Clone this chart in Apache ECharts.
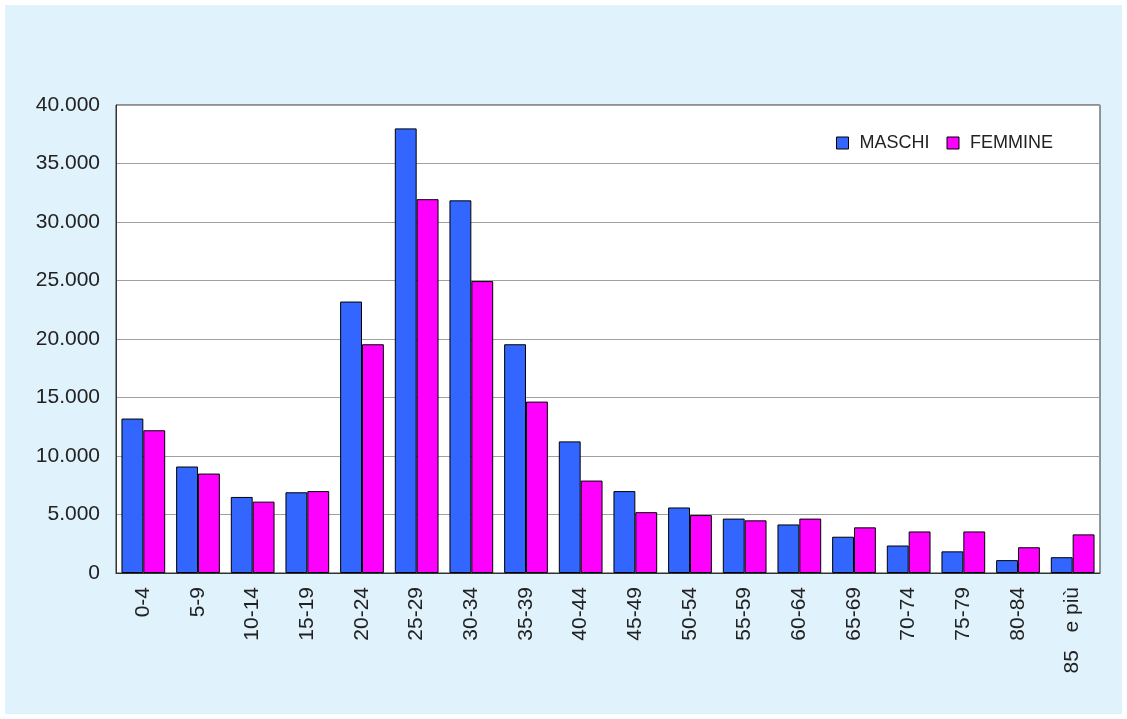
<!DOCTYPE html>
<html>
<head>
<meta charset="utf-8">
<script src="https://cdn.jsdelivr.net/npm/echarts@6/dist/echarts.min.js"></script>
<style>
html,body{margin:0;padding:0;background:#fff;}
#c{width:1127px;height:719px;}
</style>
</head>
<body>
<div id="c"></div>
<script>
var categories = ['0-4','5-9','10-14','15-19','20-24','25-29','30-34','35-39','40-44','45-49','50-54','55-59','60-64','65-69','70-74','75-79','80-84','85   e più'];
var maschi = [13200, 9100, 6500, 6900, 23200, 38000, 31850, 19550, 11250, 7000, 5600, 4650, 4150, 3100, 2350, 1850, 1100, 1350];
var femmine = [12200, 8500, 6100, 7000, 19550, 31950, 24950, 14650, 7900, 5200, 4950, 4500, 4650, 3900, 3550, 3550, 2200, 3300];
var yTicks = {min: 0, max: 40000, interval: 5000};

function fmt(v){
  return String(v).replace(/\B(?=(\d{3})+(?!\d))/g, '.');
}

var chart = echarts.init(document.getElementById('c'), null, {renderer:'canvas'});
chart.setOption({
  backgroundColor: '#ffffff',
  animation: false,
  graphic: [{
    type: 'rect', z: -10, silent: true,
    shape: {x: 5, y: 5, width: 1117, height: 709},
    style: {fill: '#E0F2FC'}
  }],
  grid: {
    left: 116, right: 27, top: 105, bottom: 146,
    show: true, backgroundColor: '#ffffff', borderColor: '#333333', borderWidth: 1
  },
  legend: {
    left: 831, top: 129,
    itemWidth: 12, itemHeight: 12, itemGap: 17,
    icon: 'rect',
    textStyle: {fontFamily: 'Liberation Sans, Arial, sans-serif', fontSize: 18, color: '#222', padding: [0,0,0,6]},
    itemStyle: {borderColor: '#000', borderWidth: 1},
    data: ['MASCHI', 'FEMMINE']
  },
  xAxis: {
    type: 'category',
    data: categories,
    axisLine: {lineStyle: {color: '#333', width: 1}},
    axisTick: {show: false},
    axisLabel: {rotate: 90, margin: 14, fontSize: 21, color: '#222', fontFamily: 'Liberation Sans, Arial, sans-serif', interval: 0}
  },
  yAxis: {
    type: 'value',
    min: yTicks.min, max: yTicks.max, interval: yTicks.interval,
    axisLine: {show: true, lineStyle: {color: '#333', width: 1}},
    axisTick: {show: false},
    splitLine: {lineStyle: {color: '#a0a0a0', width: 1}},
    axisLabel: {margin: 16, fontSize: 21, color: '#222', fontFamily: 'Liberation Sans, Arial, sans-serif', formatter: fmt}
  },
  series: [
    {name: 'MASCHI', type: 'bar', data: maschi, barGap: '0%', barCategoryGap: '20%',
     itemStyle: {color: '#3366FF', borderColor: '#000', borderWidth: 1}},
    {name: 'FEMMINE', type: 'bar', data: femmine, barGap: '0%', barCategoryGap: '20%',
     itemStyle: {color: '#FF00FF', borderColor: '#000', borderWidth: 1}}
  ]
});
</script>
</body>
</html>
